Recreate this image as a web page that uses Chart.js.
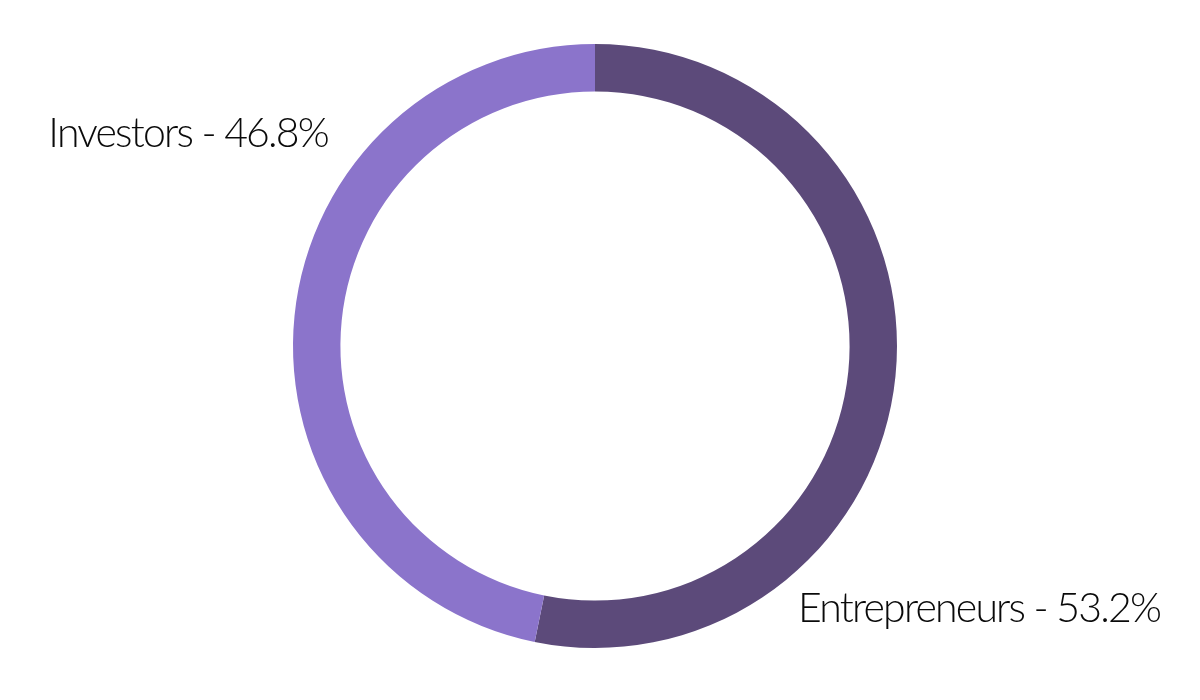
<!DOCTYPE html>
<html>
<head>
<meta charset="utf-8">
<script src="https://cdn.jsdelivr.net/npm/chart.js@4/dist/chart.umd.min.js"></script>
<style>
  html, body { margin: 0; padding: 0; background: #fff; }
  #wrap { width: 1200px; height: 700px; }
</style>
</head>
<body>
<div id="wrap"><canvas id="chart"></canvas></div>
<script>
const categories = ['Entrepreneurs', 'Investors'];
const shares = [53.2, 46.8];
const colours = ['#5c4a7a', '#8b74cb'];

// label anchors: [x, baseline y, textAlign]
const labelSpots = [[798, 622, 'left'], [328, 147, 'right']];

const sliceLabels = {
  id: 'sliceLabels',
  afterDraw(chart) {
    const ctx = chart.ctx;
    ctx.save();
    ctx.font = '300 41px Lato';
    ctx.letterSpacing = '-1.8px';
    ctx.fillStyle = '#0a0a0a';
    ctx.textBaseline = 'alphabetic';
    categories.forEach((name, i) => {
      const [x, y, align] = labelSpots[i];
      ctx.textAlign = align;
      ctx.fillText(name + ' - ' + shares[i] + '%', x, y);
    });
    ctx.restore();
  }
};

new Chart(document.getElementById('chart'), {
  type: 'doughnut',
  data: {
    labels: categories,
    datasets: [{
      data: shares,
      backgroundColor: colours,
      borderWidth: 0
    }]
  },
  options: {
    responsive: true,
    maintainAspectRatio: false,
    animation: false,
    cutout: '84.3%',
    layout: { padding: { top: 44, bottom: 52, left: 0, right: 10 } },
    plugins: {
      legend: { display: false },
      tooltip: { enabled: false }
    }
  },
  plugins: [sliceLabels]
});
</script>
</body>
</html>
